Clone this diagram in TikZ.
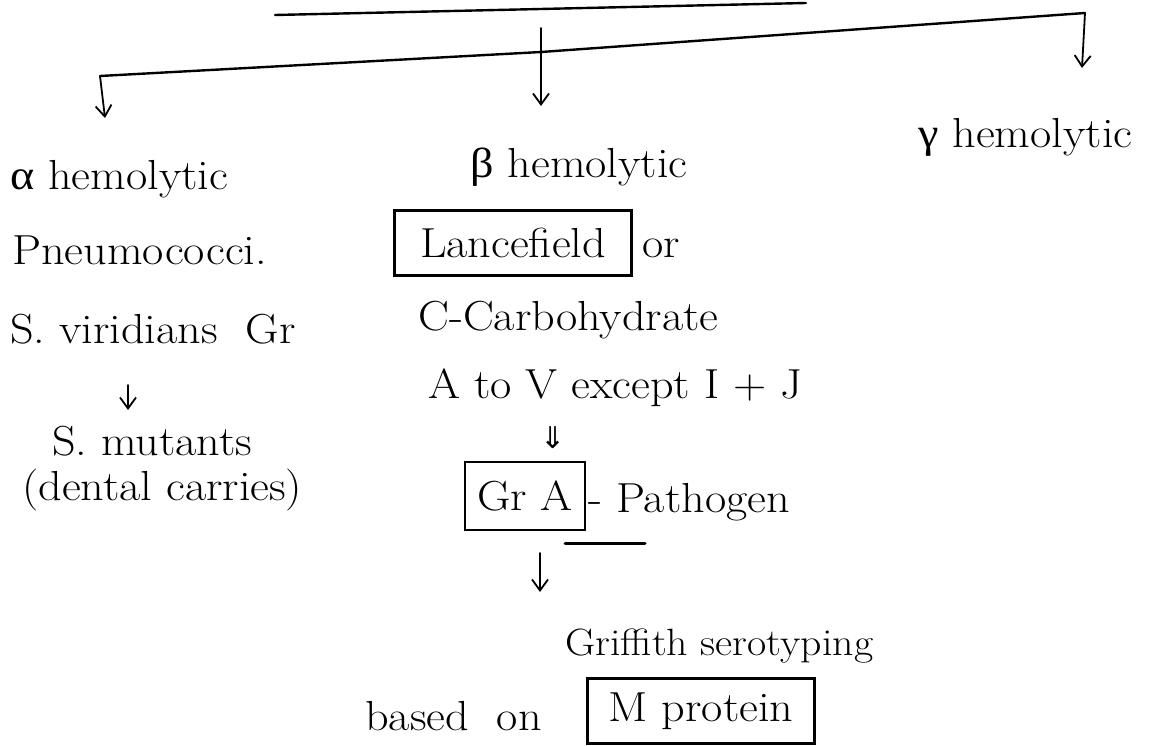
\documentclass[tikz,border=0pt]{standalone}
\usepackage{fontspec}
\setmainfont{Latin Modern Roman}[FakeStretch=1.1]
\newfontfamily\greekfont{Liberation Serif}[FakeStretch=1.1]
\newfontfamily\symfont{DejaVu Sans}
\usetikzlibrary{arrows.meta}
\begin{document}
\begin{tikzpicture}[x=1pt,y=-1pt,
  pen/.style={line width=2.4pt,line cap=round,line join=round},
  txt/.style={inner sep=0pt,anchor=base west,font=\fontsize{42}{48}\selectfont},
  boxed/.style={draw,line width=2.2pt,inner sep=0pt,font=\fontsize{42}{48}\selectfont},
  tip/.style={pen,line width=1.8pt,-{Straight Barb[length=11pt,width=16pt,line width=1.8pt]}}]
\useasboundingbox (0,0) rectangle (1173,746);

% heading rule and the branching bar
\coordinate (topL) at (275,15);
\coordinate (topR) at (806,3);
\draw[pen] (topL) -- (topR);
\coordinate (barL) at (100,76);
\coordinate (barM) at (541,52);
\coordinate (barR) at (1085,13);
\draw[pen] (barL) -- (barM) -- (barR);

% branch heads
\node[txt] (alpha) at (10,190) {{\greekfont α} hemolytic};
\node[txt] (beta)  at (470,178) {{\greekfont β} hemolytic};
\node[txt] (gamma) at (918,148) {{\greekfont γ} hemolytic};

\coordinate (aTip) at (105,118);
\coordinate (bTop) at (541,28);
\coordinate (bTip) at (541,106);
\coordinate (gTip) at (1082,68);
\draw[tip] (barL) -- (aTip);
\draw[tip] (bTop) -- (bTip);
\draw[tip] (barR) -- (gTip);

% alpha branch
\node[txt] (pneumo) at (12,265) {Pneumococci.};
\node[txt] (virid) at (10,343) {S. viridians\ \ Gr};
\node[txt] (mutans) at (52,455) {S. mutants};
\node[txt] (dental) at (22,500) {(dental carries)};
\coordinate (vA) at (128,385);
\coordinate (vB) at (128,410);
\draw[tip,line width=1.6pt] (vA) -- (vB);

% beta branch
\node[boxed,minimum width=237pt,minimum height=65pt] (lance) at (513,243) {Lancefield};
\node[txt] (or) at (642,258) {or};
\node[txt] (carb) at (418,330) {C-Carbohydrate};
\node[txt] (atov) at (428,398) {A to V\ except I + J};
\node[boxed,minimum width=120pt,minimum height=68pt] (grA) at (525,496) {Gr A};
\node[txt] (patho) at (588,512) {- Pathogen};
\coordinate (ulL) at (565,543);
\coordinate (ulR) at (645,543);
\draw[pen,line width=3pt] (ulL) -- (ulR);
\node[inner sep=0pt,font=\symfont\fontsize{30}{34}\selectfont] (dbl) at (553,438) {⇓};
\coordinate (gA) at (540,553);
\coordinate (gB) at (540,592);
\draw[tip,line width=1.6pt] (gA) -- (gB);
\node[txt,font=\fontsize{38}{44}\selectfont] (griff) at (565,655) {Griffith serotyping};
\node[txt] (based) at (365,730) {based\ \ on};
\node[boxed,minimum width=227pt,minimum height=65pt] (mprot) at (701,711) {M protein};
\end{tikzpicture}
\end{document}
